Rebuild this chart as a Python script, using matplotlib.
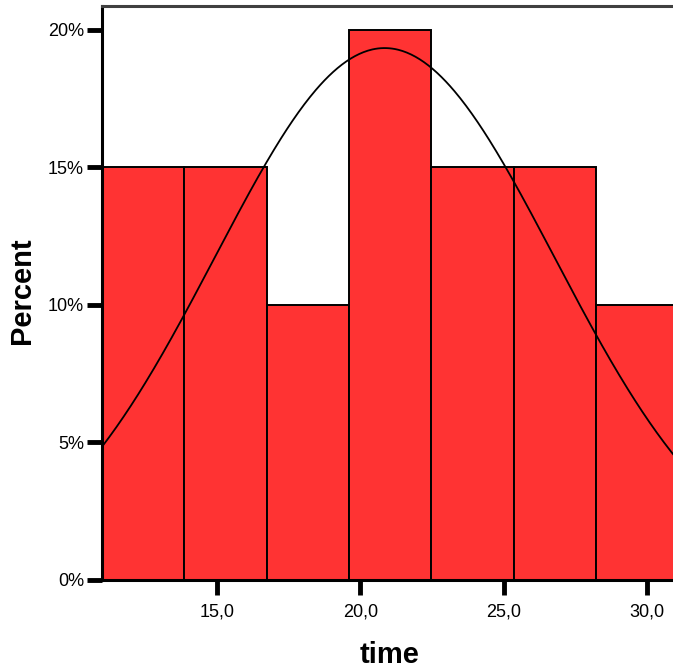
import numpy as np
import matplotlib
matplotlib.use('Agg')
import matplotlib.pyplot as plt
from matplotlib.ticker import FuncFormatter

# histogram of "time" (SPSS style)
bin_edges = [11.0, 13.87, 16.74, 19.61, 22.48, 25.35, 28.22, 31.09]
percents = [15, 15, 10, 20, 15, 15, 10]
curve_mean = 20.85
curve_sd = 5.92
x_ticks = [15, 20, 25, 30]
y_ticks = [0, 5, 10, 15, 20]

plt.rcParams['font.family'] = ['Liberation Sans', 'DejaVu Sans']

fig = plt.figure(figsize=(6.73, 6.70), dpi=100)
ax = fig.add_axes([102 / 673, 1 - 580 / 670, 1 - 102 / 673, (580 - 6) / 670])

edges = np.asarray(bin_edges)
widths = np.diff(edges)
ax.bar(edges[:-1], percents, width=widths, align='edge',
       color='#ff3333', edgecolor='black', linewidth=1.4, zorder=2)

# normal curve scaled to percent per bin
xs = np.linspace(edges[0], edges[-1], 400)
bw = widths.mean()
pdf = np.exp(-0.5 * ((xs - curve_mean) / curve_sd) ** 2) / (curve_sd * np.sqrt(2 * np.pi))
ax.plot(xs, 100 * bw * pdf, color='black', linewidth=1.3, zorder=3)

ax.set_xlim(11.0, 30.9)
ax.set_ylim(0, 20.87)
ax.set_xticks(x_ticks)
ax.set_yticks(y_ticks)
ax.xaxis.set_major_formatter(FuncFormatter(lambda v, p: ('%.1f' % v).replace('.', ',')))
ax.yaxis.set_major_formatter(FuncFormatter(lambda v, p: '%d%%' % v))
ax.tick_params(axis='both', length=11, width=3.5, labelsize=13, colors='black')
ax.tick_params(axis='y', pad=2)
ax.tick_params(axis='x', pad=6)

ax.spines['right'].set_visible(False)
ax.spines['top'].set_color('#404040')
ax.spines['top'].set_linewidth(2.2)
ax.spines['left'].set_linewidth(2.2)
ax.spines['bottom'].set_linewidth(2.2)

fig.text(22 / 673, 1 - 291 / 670, 'Percent', rotation=90, ha='center', va='center',
         fontsize=21, fontweight='bold')
fig.text(390 / 673, 1 - 655 / 670, 'time', ha='center', va='center',
         fontsize=21, fontweight='bold')

fig.savefig('out.png', dpi=100)
